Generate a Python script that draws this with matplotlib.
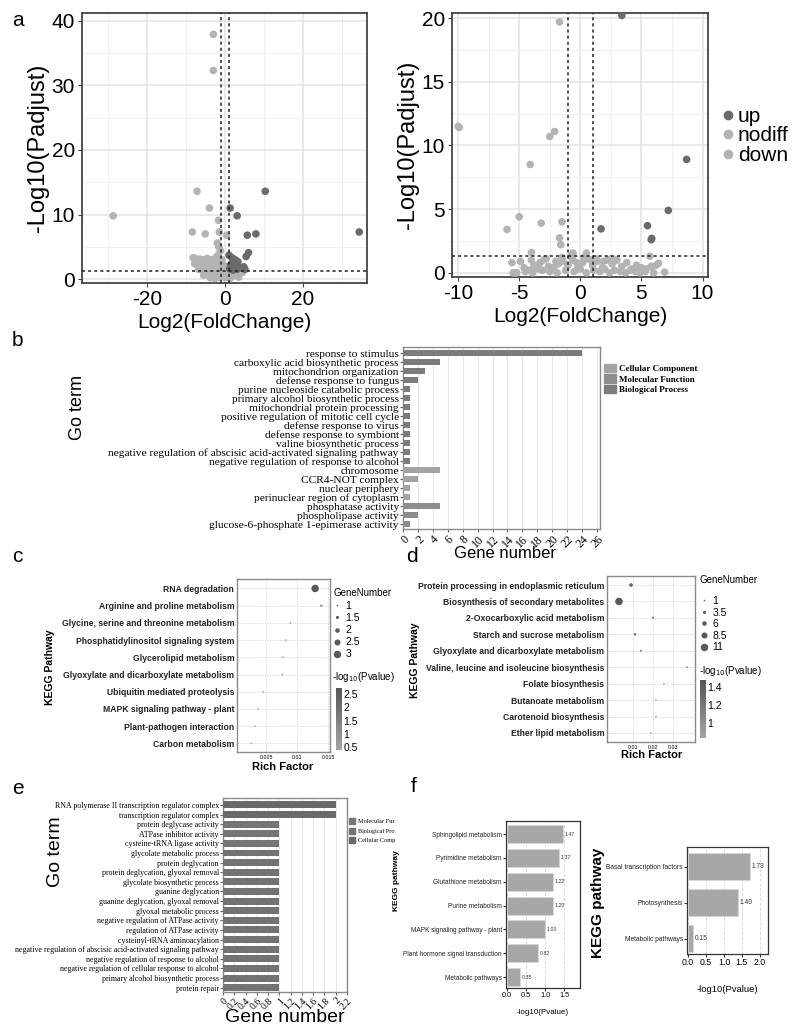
import numpy as np
import matplotlib
matplotlib.use('Agg')
import matplotlib.pyplot as plt
from matplotlib import font_manager
from matplotlib.patches import Patch
from matplotlib.lines import Line2D
from matplotlib.colors import LinearSegmentedColormap

names = {f.name for f in font_manager.fontManager.ttflist}
SANS = 'Liberation Sans'
SERIF = 'Liberation Serif'
plt.rcParams['font.family'] = [SANS, 'DejaVu Sans']
plt.rcParams['axes.unicode_minus'] = False

# ---------------- data: panel a (volcano plots) ----------------
a1_up_x = [10.3, 1.3, 3.1, 5.7, 7.9, 34.4, 6.0, 5.4, 1.0, 1.8, 2.6, 3.3, 2.0, 1.4, 2.8, 3.6, 2.3, 1.2, 4.4, 5.1, 4.8, 2.0, 3.0]
a1_up_y = [13.6, 11.0, 9.8, 6.8, 7.0, 7.3, 4.1, 3.5, 3.7, 3.3, 3.0, 2.7, 2.5, 2.2, 2.2, 1.9, 1.7, 1.6, 1.7, 1.5, 1.9, 1.4, 1.5]
a1_gray_x = [-3.0, -3.0, -7.2, -4.0, -28.7, -1.7, -8.4, -5.1, -1.5, 0.4, -2.0, -1.6, -1.2,
             -8.2, -7.6, -7.0, -6.4, -5.8, -5.2, -4.6, -4.0, -3.4, -2.8, -2.2,
             -7.8, -7.1, -6.5, -5.9, -5.3, -4.7, -4.1, -3.5, -2.9, -2.3, -1.7,
             -6.8, -6.0, -5.2, -4.4, -3.6, -2.8, -2.0, -1.2, -0.4, 0.4, 1.2, 2.0, 2.8, 3.6, 4.4,
             -5.5, -4.6, -3.7, -2.8, -1.9, -1.0, -0.1, 0.8, 1.7, 2.6, 3.5,
             -3.8, -2.5, -1.3, 0.0, 1.3, -1.8, -0.8]
a1_gray_y = [37.9, 32.3, 13.6, 11.0, 9.8, 9.1, 7.3, 7.0, 7.3, 6.8, 5.6, 5.0, 4.4,
             3.3, 3.2, 3.0, 3.1, 2.9, 3.0, 3.2, 3.0, 2.9, 3.1, 3.4,
             2.4, 2.2, 2.5, 2.3, 2.1, 2.4, 2.2, 2.0, 2.3, 2.6, 3.8,
             1.5, 1.4, 1.6, 1.3, 1.5, 1.4, 1.6, 1.8, 2.2, 1.9, 1.1, 0.9, 1.0, 1.2, 1.0,
             0.6, 0.7, 0.5, 0.8, 0.6, 0.9, 1.2, 0.5, 0.4, 0.6, 0.3,
             0.2, 0.1, 0.3, 0.2, 0.1, 2.8, 3.0]

a2_up_x = [3.4, 8.7, 7.2, 5.5, 5.85, 5.8, 1.7]
a2_up_y = [20.2, 8.9, 4.9, 3.7, 2.7, 2.6, 3.45]
a2_gray_x = [-1.7, -10.0, -9.9, -2.1, -2.5, -4.1, -5.0, -6.0, -3.2, -1.5, -1.7, -1.6, -4.0, 5.7,
             -5.6, -5.2, -4.9, -4.6, -4.2, -3.8, -3.4, -3.0, -2.6, -2.2, -1.8, -1.4, -1.0, -0.6, -0.2,
             0.2, 0.6, 1.0, 1.4, 1.8, 2.2, 2.6, 3.0, 3.4, 3.8, 4.2, 4.6, 5.0, 5.4, 5.8, 6.2,
             -5.3, -4.5, -3.9, -3.1, -2.5, -1.9, -1.2, -0.5, 0.0, 0.5, 1.1, 1.6, 2.0, 2.4, 2.8,
             3.3, 3.7, 4.1, 4.5, 4.9, 5.3,
             -4.0, -3.3, -2.8, -2.0, -1.5, -0.8, -0.3, 0.3, 0.9, 1.3, 1.9, 2.5, 2.9, -0.6, 0.5,
             6.4, 6.9, -3.7, -5.5, 6.0]
a2_gray_y = [19.7, 11.5, 11.4, 11.1, 10.7, 8.5, 4.4, 3.4, 3.9, 4.0, 2.75, 2.2, 1.6, 1.3,
             0.8, 0.0, 0.9, 0.4, 0.2, 0.6, 0.3, 1.0, 0.5, 0.4, 0.7, 0.9, 0.6, 1.0, 0.5,
             0.8, 1.1, 0.6, 0.9, 0.4, 1.0, 0.7, 1.0, 0.5, 0.8, 0.3, 0.6, 0.4, 0.3, 0.5, 0.6,
             0.0, 0.1, 0.0, 0.2, 0.1, 0.0, 0.2, 0.1, 0.3, 0.0, 0.2, 0.1, 0.3, 0.0, 0.2,
             0.1, 0.0, 0.2, 0.1, 0.0, 0.1,
             1.0, 0.8, 1.1, 0.9, 1.2, 1.3, 0.8, 1.2, 1.0, 1.1, 0.9, 1.1, 1.0, 1.55, 1.55,
             0.75, 0.05, 0.5, 0.0, 0.0]
a_legend = ['up', 'nodiff', 'down']

# ---------------- data: panel b (GO bar) ----------------
b_terms = ['response to stimulus', 'carboxylic acid biosynthetic process', 'mitochondrion organization',
           'defense response to fungus', 'purine nucleoside catabolic process',
           'primary alcohol biosynthetic process', 'mitochondrial protein processing',
           'positive regulation of mitotic cell cycle', 'defense response to virus',
           'defense response to symbiont', 'valine biosynthetic process',
           'negative regulation of abscisic acid-activated signaling pathway',
           'negative regulation of response to alcohol', 'chromosome', 'CCR4-NOT complex',
           'nuclear periphery', 'perinuclear region of cytoplasm', 'phosphatase activity',
           'phospholipase activity', 'glucose-6-phosphate 1-epimerase activity']
b_counts = [24, 5, 3, 2, 1, 1, 1, 1, 1, 1, 1, 1, 1, 5, 2, 1, 1, 5, 2, 1]
b_cats = ['BP'] * 13 + ['CC'] * 4 + ['MF'] * 3
b_legend = ['Cellular Component', 'Molecular Function', 'Biological Process']

# ---------------- data: panel c (KEGG dot) ----------------
c_paths = ['RNA degradation', 'Arginine and proline metabolism', 'Glycine, serine and threonine metabolism',
           'Phosphatidylinositol signaling system', 'Glycerolipid metabolism',
           'Glyoxylate and dicarboxylate metabolism', 'Ubiquitin mediated proteolysis',
           'MAPK signaling pathway - plant', 'Plant-pathogen interaction', 'Carbon metabolism']
c_rich = [0.0129, 0.0139, 0.0089, 0.0082, 0.0077, 0.0076, 0.0045, 0.0037, 0.0032, 0.0026]
c_genes = [3, 1.2, 1, 1, 1, 1, 1, 1, 1, 1]
c_logp = [2.6, 1.3, 0.9, 0.85, 0.8, 0.8, 0.6, 0.55, 0.5, 0.45]
c_size_legend = [1, 1.5, 2, 2.5, 3]

# ---------------- data: panel d (KEGG dot) ----------------
d_paths = ['Protein processing in endoplasmic reticulum', 'Biosynthesis of secondary metabolites',
           '2-Oxocarboxylic acid metabolism', 'Starch and sucrose metabolism',
           'Glyoxylate and dicarboxylate metabolism', 'Valine, leucine and isoleucine biosynthesis',
           'Folate biosynthesis', 'Butanoate metabolism', 'Carotenoid biosynthesis', 'Ether lipid metabolism']
d_rich = [0.009, 0.003, 0.020, 0.011, 0.014, 0.037, 0.0255, 0.0215, 0.0215, 0.019]
d_genes = [4.5, 11, 2, 3, 2, 1, 1, 1, 1, 1]
d_logp = [1.3, 1.45, 1.05, 1.1, 1.0, 1.2, 0.95, 0.95, 0.95, 0.9]
d_size_legend = [1, 3.5, 6, 8.5, 11]

# ---------------- data: panel e (GO bar) ----------------
e_terms = ['RNA polymerase II transcription regulator complex', 'transcription regulator complex',
           'protein deglycase activity', 'ATPase inhibitor activity', 'cysteine-tRNA ligase activity',
           'glycolate metabolic process', 'protein deglycation', 'protein deglycation, glyoxal removal',
           'glycolate biosynthetic process', 'guanine deglycation', 'guanine deglycation, glyoxal removal',
           'glyoxal metabolic process', 'negative regulation of ATPase activity',
           'regulation of ATPase activity', 'cysteinyl-tRNA aminoacylation',
           'negative regulation of abscisic acid-activated signaling pathway',
           'negative regulation of response to alcohol',
           'negative regulation of cellular response to alcohol',
           'primary alcohol biosynthetic process', 'protein repair']
e_counts = [2, 2] + [1] * 18
e_cats = ['CC', 'CC', 'MF', 'MF', 'MF'] + ['BP'] * 15
e_legend = ['Molecular Fur', 'Biological Pro', 'Cellular Comp']
e_xticks = [0, 0.2, 0.4, 0.6, 0.8, 1.0, 1.2, 1.4, 1.6, 1.8, 2.0, 2.2]
e_xticklabels = ['0', '0.2', '0.4', '0.6', '0.8', '1', '1.2', '1.4', '1.6', '1.8', '2', '2.2']

# ---------------- data: panel f (KEGG bars) ----------------
f1_paths = ['Sphingolipid metabolism', 'Pyrimidine metabolism', 'Glutathione metabolism', 'Purine metabolism',
            'MAPK signaling pathway - plant', 'Plant hormone signal transduction', 'Metabolic pathways']
f1_vals = [1.47, 1.37, 1.22, 1.20, 1.00, 0.82, 0.35]
f2_paths = ['Basal transcription factors', 'Photosynthesis', 'Metabolic pathways']
f2_vals = [1.73, 1.40, 0.15]

# ---------------- figure ----------------
W, H = 800, 1031
fig = plt.figure(figsize=(W / 100, H / 100), dpi=100)


def box(x0, y0, x1, y1):
    return [x0 / W, 1 - y1 / H, (x1 - x0) / W, (y1 - y0) / H]


def ftxt(x, y, s, **kw):
    fig.text(x / W, 1 - y / H, s, **kw)


DARK = '#6b6b6b'
LIGHT = '#b3b3b3'


def volcano(ax, ux, uy, gx, gy, xlim, ylim, xt, xmin, yt, ymin):
    ax.scatter(gx, gy, s=30, color=LIGHT, edgecolors='none', zorder=3)
    ax.scatter(ux, uy, s=30, color=DARK, edgecolors='none', zorder=3)
    ax.axvline(-1, color='#222222', ls=(0, (2, 2)), lw=1.1, zorder=4)
    ax.axvline(1, color='#222222', ls=(0, (2, 2)), lw=1.1, zorder=4)
    ax.axhline(1.3, color='#222222', ls=(0, (2, 2)), lw=1.1, zorder=4)
    ax.set_xlim(*xlim)
    ax.set_ylim(*ylim)
    ax.set_xticks(xt)
    ax.set_xticks(xmin, minor=True)
    ax.set_yticks(yt)
    ax.set_yticks(ymin, minor=True)
    ax.grid(which='major', color='#e3e3e3', lw=1.1)
    ax.grid(which='minor', color='#f0f0f0', lw=0.7)
    ax.set_axisbelow(True)
    for s in ax.spines.values():
        s.set_color('#444444')
        s.set_linewidth(1.3)
    ax.tick_params(which='major', length=3, color='#444444', labelsize=15, pad=2)
    ax.tick_params(which='minor', length=0)
    ax.set_xlabel('Log2(FoldChange)', fontsize=15, labelpad=3)
    ax.set_ylabel('-Log10(Padjust)', fontsize=17, labelpad=2)


ax1 = fig.add_axes(box(82, 13, 367, 283))
volcano(ax1, a1_up_x, a1_up_y, a1_gray_x, a1_gray_y, (-36.7, 36.4), (-0.6, 41.2),
        [-20, 0, 20], [-30, -10, 10, 30], [0, 10, 20, 30, 40], [5, 15, 25, 35])
ax2 = fig.add_axes(box(452, 13, 708, 277))
volcano(ax2, a2_up_x, a2_up_y, a2_gray_x, a2_gray_y, (-10.5, 10.45), (-0.33, 20.4),
        [-10, -5, 0, 5, 10], [-7.5, -2.5, 2.5, 7.5], [0, 5, 10, 15, 20], [2.5, 7.5, 12.5, 17.5])
hand = [Line2D([], [], marker='o', ls='', color=c, markersize=6) for c in (DARK, LIGHT, LIGHT)]
ax2.legend(hand, a_legend, loc='upper left', bbox_to_anchor=(720 / W, 1 - 107 / H),
           bbox_transform=fig.transFigure, frameon=False, fontsize=15, labelspacing=0.02,
           handletextpad=0.05, handlelength=0.8, borderpad=0, borderaxespad=0)

# ---------------- panel b ----------------
gocol = {'CC': '#a3a3a3', 'MF': '#8d8d8d', 'BP': '#7c7c7c'}


def gobar(ax, terms, counts, cats, height, ylim, xlim, xt, xtl, ysize, xsize):
    y = np.arange(len(terms))
    ax.barh(y, counts, height=height, color=[gocol[c] for c in cats], zorder=3)
    ax.set_ylim(*ylim)
    ax.set_xlim(*xlim)
    ax.set_yticks(y)
    ax.set_yticklabels(terms, family=SERIF, fontsize=ysize)
    ax.set_xticks(xt)
    ax.set_xticklabels(xtl, family=SERIF, fontsize=xsize, rotation=45, ha='right',
                       va='top', rotation_mode='anchor')
    ax.grid(axis='x', color='#e8e8e8', lw=0.8)
    ax.set_axisbelow(True)
    for s in ax.spines.values():
        s.set_color('#8a8a8a')
        s.set_linewidth(1.0)
    ax.tick_params(length=2, color='#666666', pad=1)


axb = fig.add_axes(box(403, 347, 600, 529))
gobar(axb, b_terms, b_counts, b_cats, 0.66, (19.55, -0.67), (0, 26.4),
      list(range(0, 27, 2)), [str(v) for v in range(0, 27, 2)], 8.2, 8.5)
ftxt(77, 407, 'Go term', rotation=90, fontsize=13, ha='center', va='center')
ftxt(505, 553, 'Gene number', fontsize=12, ha='center', va='center')
hb = [Patch(color=gocol[k]) for k in ('CC', 'MF', 'BP')]
axb.legend(hb, b_legend, loc='upper left', bbox_to_anchor=(604 / W, 1 - 364 / H),
           bbox_transform=fig.transFigure, frameon=False, prop={'family': SERIF, 'size': 6.5, 'weight': 'bold'},
           handlelength=1.3, handleheight=1.0, labelspacing=0.15, handletextpad=0.4,
           borderpad=0, borderaxespad=0)

# ---------------- panels c and d ----------------
gcmap = LinearSegmentedColormap.from_list('g', ['#a5a5a5', '#555555'])


def dotplot(ax, cax, paths, rich, genes, logp, dsize, vlim, xlim, xt, xtl, cticks, ylim):
    y = np.arange(len(paths))
    s = [(1.2 + dsize * (g - 1)) ** 2 for g in genes]
    sc = ax.scatter(rich, y, s=s, c=logp, cmap=gcmap, vmin=vlim[0], vmax=vlim[1],
                    edgecolors='none', zorder=3)
    ax.set_ylim(*ylim)
    ax.set_xlim(*xlim)
    ax.set_yticks(y)
    ax.set_yticklabels(paths, fontsize=6.2, fontweight='bold', color='#222222')
    ax.set_xticks(xt)
    ax.set_xticklabels(xtl, fontsize=3.8)
    ax.grid(color='#d0d0d0', lw=0.6, ls=(0, (1.5, 1.5)))
    ax.set_axisbelow(True)
    for sp in ax.spines.values():
        sp.set_color('#8a8a8a')
        sp.set_linewidth(1.0)
    ax.tick_params(length=0, pad=2)
    cb = fig.colorbar(sc, cax=cax, ticks=cticks)
    cb.outline.set_visible(False)
    cax.set_yticklabels([('%g' % t) for t in cticks])
    cax.tick_params(length=0, labelsize=7.5, pad=1)
    return sc


axc = fig.add_axes(box(237, 579, 330, 752))
caxc = fig.add_axes(box(336, 688, 342, 750))
dotplot(axc, caxc, c_paths, c_rich, c_genes, c_logp, 2.1, (0.39, 2.73), (0.0003, 0.0153),
        [0.005, 0.01, 0.015], ['0.005', '0.01', '0.015'], [0.5, 1, 1.5, 2, 2.5], (9.5, -0.55))
hc = [Line2D([], [], marker='o', ls='', color='#5a5a5a', markeredgewidth=0,
             markersize=1.2 + 2.1 * (g - 1)) for g in c_size_legend]
axc.legend(hc, [('%g' % g) for g in c_size_legend], loc='upper left',
           bbox_to_anchor=(333 / W, 1 - 601 / H), bbox_transform=fig.transFigure, frameon=False,
           fontsize=7.5, labelspacing=0.2, handletextpad=0.4,
           handlelength=0.8, borderpad=0, borderaxespad=0)
ftxt(333, 593, 'GeneNumber', fontsize=7, ha='left', va='center')
ftxt(332, 677, '-log$_{10}$(Pvalue)', fontsize=7, ha='left', va='center')
ftxt(50, 667, 'KEGG Pathway', rotation=90, fontsize=7.5, fontweight='bold', ha='center', va='center')
ftxt(283, 767, 'Rich Factor', fontsize=8, fontweight='bold', ha='center', va='center')

axd = fig.add_axes(box(607, 576, 695, 742))
caxd = fig.add_axes(box(700, 680, 706, 738))
dotplot(axd, caxd, d_paths, d_rich, d_genes, d_logp, 0.42, (0.83, 1.48), (-0.003, 0.041),
        [0.01, 0.02, 0.03], ['0.01', '0.02', '0.03'], [1, 1.2, 1.4], (9.55, -0.55))
hd = [Line2D([], [], marker='o', ls='', color='#5a5a5a', markeredgewidth=0,
             markersize=1.2 + 0.42 * (g - 1)) for g in d_size_legend]
axd.legend(hd, [('%g' % g) for g in d_size_legend], loc='upper left',
           bbox_to_anchor=(700 / W, 1 - 596 / H), bbox_transform=fig.transFigure, frameon=False,
           fontsize=7.5, labelspacing=0.15, handletextpad=0.4,
           handlelength=0.8, borderpad=0, borderaxespad=0)
ftxt(699, 580, 'GeneNumber', fontsize=7, ha='left', va='center')
ftxt(699, 671, '-log$_{10}$(Pvalue)', fontsize=7, ha='left', va='center')
ftxt(415, 660, 'KEGG Pathway', rotation=90, fontsize=7.5, fontweight='bold', ha='center', va='center')
ftxt(652, 755, 'Rich Factor', fontsize=8, fontweight='bold', ha='center', va='center')

# ---------------- panel e ----------------
gocol.update({'CC': '#6a6a6a', 'MF': '#757575', 'BP': '#737373'})
axe = fig.add_axes(box(223, 798, 347, 992))
gobar(axe, e_terms, e_counts, e_cats, 0.72, (19.45, -0.72), (0, 2.2),
      e_xticks, e_xticklabels, 5.7, 7)
ftxt(55, 852, 'Go term', rotation=90, fontsize=14, ha='center', va='center')
ftxt(285, 1018, 'Gene number', fontsize=14, ha='center', va='center')
he = [Patch(color=gocol[k]) for k in ('MF', 'BP', 'CC')]
axe.legend(he, e_legend, loc='upper left', bbox_to_anchor=(349 / W, 1 - 818 / H),
           bbox_transform=fig.transFigure, frameon=False, prop={'family': SERIF, 'size': 4.5},
           handlelength=1.0, handleheight=1.2, labelspacing=0.5, handletextpad=0.4,
           borderpad=0, borderaxespad=0)

# ---------------- panel f ----------------
FBAR = '#a7a7a7'


def kbar(ax, paths, vals, xlim, ylim, ysize, xsize, vsize, off):
    y = np.arange(len(paths))
    ax.barh(y, vals, height=0.75, color=FBAR, edgecolor='#d8d8d8', lw=0.5, zorder=3)
    for yi, v in zip(y, vals):
        ax.text(v + off, yi, '%.2f' % v, fontsize=vsize, va='center', color='#333333')
    ax.set_ylim(*ylim)
    ax.set_xlim(*xlim)
    ax.set_yticks(y)
    ax.set_yticklabels(paths, fontsize=ysize, color='#222222')
    ax.set_xticks([0, 0.5, 1.0, 1.5] + ([2.0] if xlim[1] > 2 else []))
    ax.set_xticklabels([('%.1f' % t) for t in ax.get_xticks()], fontsize=xsize)
    ax.grid(axis='x', color='#d8d8d8', lw=0.7, ls=(0, (3, 2)))
    ax.set_axisbelow(True)
    for sp in ax.spines.values():
        sp.set_color('#333333')
        sp.set_linewidth(0.9)
    ax.tick_params(length=2, color='#333333', pad=1)


axf1 = fig.add_axes(box(506, 821, 580, 988))
kbar(axf1, f1_paths, f1_vals, (-0.03, 1.92), (6.46, -0.55), 4.7, 5.3, 3.8, 0.04)
ftxt(543, 1013, '-log10(Pvalue)', fontsize=5.8, ha='center', va='center')
ftxt(397, 881, 'KEGG pathway', rotation=90, fontsize=6, fontweight='bold', ha='center', va='center')

axf2 = fig.add_axes(box(687, 847, 768, 954))
kbar(axf2, f2_paths, f2_vals, (-0.03, 2.23), (2.42, -0.55), 4.8, 6.3, 4.8, 0.04)
ftxt(727, 990, '-log10(Pvalue)', fontsize=6.8, ha='center', va='center')
ftxt(598, 903, 'KEGG pathway', rotation=90, fontsize=11, fontweight='bold', ha='center', va='center')

# ---------------- panel letters ----------------
for letter, x, y in [('a', 12, 20), ('b', 12, 340), ('c', 12, 557), ('d', 406, 556),
                     ('e', 12, 788), ('f', 411, 786)]:
    ftxt(x, y, letter, fontsize=15, ha='left', va='center')

fig.savefig('out.png', dpi=100)
